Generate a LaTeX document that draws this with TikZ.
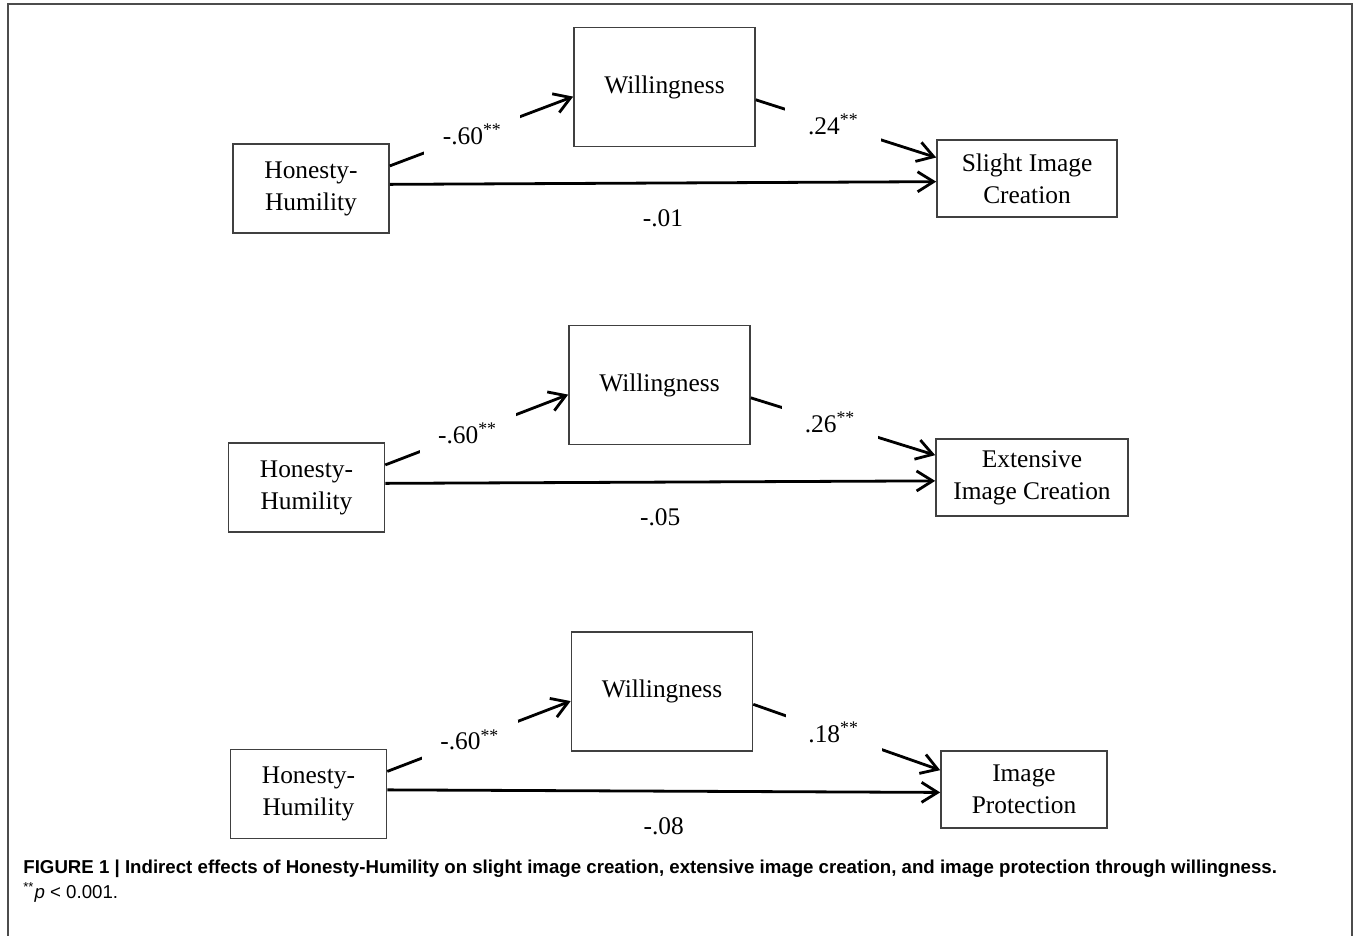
\documentclass[tikz,border=0pt]{standalone}
\usepackage{fontspec}
\setmainfont{Liberation Serif}
\newfontfamily\capfont{Liberation Sans}
\usetikzlibrary{arrows.meta}

\begin{document}
\begin{tikzpicture}[x=0.5pt,y=-0.5pt,
	every node/.style={font=\fontsize{12.7pt}{16pt}\selectfont},
	var/.style={draw=black!75, line width=0.8pt, align=center, inner sep=0pt, minimum height=38.5pt},
	predictor/.style={var, minimum width=78pt, minimum height=44.5pt},
	mediator/.style={var, minimum width=90.5pt, minimum height=59.5pt},
	effect/.style={line width=1.4pt, -{Straight Barb[length=8pt,width=10pt]}},
	coef/.style={fill=white, inner sep=0pt, minimum width=48pt, minimum height=20pt},
	direct/.style={below=12.5pt, inner sep=0pt}
	]
  \useasboundingbox (0,0) rectangle (1357,936);
  \draw[black!70, line width=0.6pt] (8,936) |- (1352,4) -- (1352,936);

  % slight image creation
  \node[predictor] (hhA) at (311,188.5) {Honesty-\\Humility};
  \node[mediator] (wA) at (664.5,87) {Willingness};
  \node[var, minimum width=90pt] (outA) at (1027,178.5) {Slight Image\\Creation};
  \draw[effect] (hhA.16) -- node[coef, pos=0.45] {-.60\textsuperscript{**}} (wA.186);
  \draw[effect] (wA.352) -- node[coef, pos=0.43] {.24\textsuperscript{**}} (outA.167);
  \draw[effect] (hhA.3) -- node[direct, midway] {-.01} (outA.182);

  % extensive image creation
  \node[predictor] (hhB) at (306.5,487.5) {Honesty-\\Humility};
  \node[mediator] (wB) at (659.5,385) {Willingness};
  \node[var, minimum width=96pt] (outB) at (1032,477.5) {Extensive\\Image Creation};
  \draw[effect] (hhB.16) -- node[coef, pos=0.45] {-.60\textsuperscript{**}} (wB.186);
  \draw[effect] (wB.352) -- node[coef, pos=0.43] {.26\textsuperscript{**}} (outB.167);
  \draw[effect] (hhB.3) -- node[direct, midway] {-.05} (outB.182);

  % image protection
  \node[predictor] (hhC) at (308.5,794) {Honesty-\\Humility};
  \node[mediator] (wC) at (662,691.5) {Willingness};
  \node[var, minimum width=83pt] (outC) at (1024,789.5) {Image\\Protection};
  \draw[effect] (hhC.16) -- node[coef, pos=0.45] {-.60\textsuperscript{**}} (wC.186);
  \draw[effect] (wC.352) -- node[coef, pos=0.43] {.18\textsuperscript{**}} (outC.167);
  \draw[effect] (hhC.3) -- node[direct, midway] {-.08} (outC.182);

  \node[anchor=north west, align=left, inner sep=0pt, font=\capfont\fontsize{9.33pt}{12.5pt}\selectfont] (caption) at (23,860)
    {\textbf{FIGURE 1 | Indirect effects of Honesty-Humility on slight image creation, extensive image creation, and image protection through willingness.}\\
     \textsuperscript{**}\textit{p} < 0.001.};
\end{tikzpicture}
\end{document}
